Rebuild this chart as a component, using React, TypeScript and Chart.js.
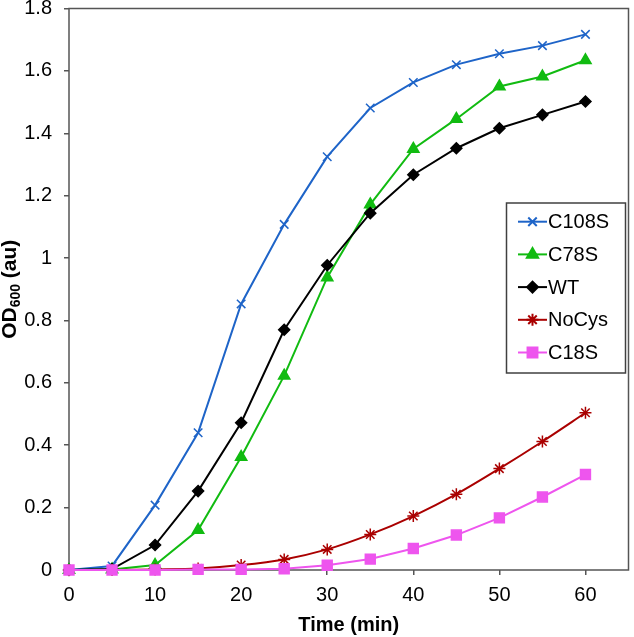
import React, { useEffect, useRef } from "react";
import { Chart, registerables } from "chart.js";
import { drawPoint } from "chart.js/helpers";

Chart.register(...registerables);

const timeMin = [0, 5, 10, 15, 20, 25, 30, 35, 40, 45, 50, 55, 60];
const c108s = [0, 0.013, 0.208, 0.44, 0.853, 1.108, 1.325, 1.481, 1.563, 1.62, 1.655, 1.681, 1.717];
const c78s = [0, 0.002, 0.016, 0.128, 0.362, 0.623, 0.938, 1.172, 1.35, 1.446, 1.55, 1.582, 1.634];
const wt = [0, 0.003, 0.08, 0.253, 0.472, 0.77, 0.977, 1.144, 1.267, 1.352, 1.416, 1.459, 1.502];
const noCys = [0, 0, 0.002, 0.005, 0.016, 0.034, 0.066, 0.114, 0.173, 0.243, 0.325, 0.412, 0.504];
const c18s = [0, 0, 0, 0.002, 0.002, 0.004, 0.015, 0.035, 0.069, 0.112, 0.167, 0.234, 0.306];
const xTickValues = [0, 10, 20, 30, 40, 50, 60];

const FONT = "'Liberation Sans', Arial, sans-serif";
const AXIS_COLOR = "#555555";

type S = {
  label: string;
  values: number[];
  color: string;
  pointStyle: string;
  radius: number;
  tension: number;
  order: number;
};

const series: S[] = [
  { label: "C108S", values: c108s, color: "#1E64C8", pointStyle: "crossRot", radius: 6, tension: 0, order: 5 },
  { label: "C78S", values: c78s, color: "#11BB11", pointStyle: "triangle", radius: 6.5, tension: 0, order: 4 },
  { label: "WT", values: wt, color: "#000000", pointStyle: "rectRot", radius: 5.5, tension: 0, order: 3 },
  { label: "NoCys", values: noCys, color: "#AA0000", pointStyle: "star", radius: 6, tension: 0.3, order: 2 },
  { label: "C18S", values: c18s, color: "#EE55EE", pointStyle: "rect", radius: 7, tension: 0, order: 1 },
];

const framePlugin = {
  id: "frame",
  beforeDatasetsDraw(chart: any) {
    const { ctx, chartArea } = chart;
    ctx.save();
    ctx.strokeStyle = AXIS_COLOR;
    ctx.lineWidth = 1.5;
    ctx.strokeRect(chartArea.left, chartArea.top, chartArea.right - chartArea.left, chartArea.bottom - chartArea.top);
    ctx.restore();
  },
};

const textPlugin = {
  id: "texts",
  afterDraw(chart: any) {
    const { ctx, chartArea } = chart;
    ctx.save();
    // X title
    ctx.fillStyle = "#000";
    ctx.font = `bold 20px ${FONT}`;
    ctx.textAlign = "center";
    ctx.textBaseline = "alphabetic";
    ctx.fillText("Time (min)", (chartArea.left + chartArea.right) / 2, 631);

    // Y title with subscript
    const cy = (chartArea.top + chartArea.bottom) / 2;
    ctx.translate(16, cy);
    ctx.rotate(-Math.PI / 2);
    const big = `bold 21px ${FONT}`;
    const small = `bold 14px ${FONT}`;
    ctx.font = big;
    const w1 = ctx.measureText("OD").width;
    const w3 = ctx.measureText(" (au)").width;
    ctx.font = small;
    const w2 = ctx.measureText("600").width;
    const total = w1 + w2 + w3;
    let x = -total / 2;
    ctx.textAlign = "left";
    ctx.font = big;
    ctx.fillText("OD", x, 0);
    x += w1;
    ctx.font = small;
    ctx.fillText("600", x, 4);
    x += w2;
    ctx.font = big;
    ctx.fillText(" (au)", x, 0);
    ctx.restore();

    // Legend
    ctx.save();
    ctx.strokeStyle = "#404040";
    ctx.lineWidth = 1.5;
    ctx.strokeRect(506.5, 203, 119, 170);
    const y0 = 221.7;
    const dy = 32.7;
    series.forEach((s, i) => {
      const y = y0 + i * dy;
      ctx.strokeStyle = s.color;
      ctx.lineWidth = 2;
      ctx.beginPath();
      ctx.moveTo(518, y);
      ctx.lineTo(547, y);
      ctx.stroke();
      ctx.fillStyle = s.color;
      drawPoint(ctx, { pointStyle: s.pointStyle as any, radius: s.radius, rotation: 0, borderWidth: 1.5 } as any, 532.5, y);
      ctx.fillStyle = "#000";
      ctx.font = `20px ${FONT}`;
      ctx.textAlign = "left";
      ctx.textBaseline = "middle";
      ctx.fillText(s.label, 548, y + 1);
    });
    ctx.restore();
  },
};

export default function App() {
  const ref = useRef<HTMLCanvasElement>(null);
  useEffect(() => {
    if (!ref.current) return;
    const chart = new Chart(ref.current, {
      type: "line",
      data: {
        datasets: series.map((s) => ({
          label: s.label,
          data: timeMin.map((t, i) => ({ x: t, y: s.values[i] })),
          borderColor: s.color,
          backgroundColor: s.color,
          pointBackgroundColor: s.color,
          pointBorderColor: s.color,
          pointStyle: s.pointStyle as any,
          pointRadius: s.radius,
          pointBorderWidth: 1.5,
          borderWidth: 2,
          tension: s.tension,
          order: s.order,
          clip: false as any,
          fill: false,
        })),
      },
      options: {
        animation: false,
        responsive: true,
        maintainAspectRatio: false,
        layout: { padding: { top: 7, right: 0, left: 0, bottom: 0 } },
        plugins: { legend: { display: false }, tooltip: { enabled: false } },
        scales: {
          x: {
            type: "linear",
            min: 0,
            max: 65,
            afterBuildTicks: (scale: any) => {
              scale.ticks = xTickValues.map((v) => ({ value: v }));
            },
            afterFit: (scale: any) => {
              scale.height = 67;
              scale.paddingLeft = 0;
              scale.paddingRight = 0;
            },
            border: { display: false },
            grid: { display: true, drawOnChartArea: false, drawTicks: true, tickLength: 5, color: AXIS_COLOR, lineWidth: 1.5 },
            ticks: {
              color: "#000",
              font: { family: FONT, size: 20 },
              padding: 8,
              maxRotation: 0,
              autoSkip: false,
            },
          },
          y: {
            type: "linear",
            min: 0,
            max: 1.8,
            afterFit: (scale: any) => {
              scale.width = 69;
              scale.paddingTop = 0;
              scale.paddingBottom = 0;
            },
            border: { display: false },
            grid: { display: true, drawOnChartArea: false, drawTicks: true, tickLength: 5, color: AXIS_COLOR, lineWidth: 1.5 },
            ticks: {
              stepSize: 0.2,
              color: "#000",
              font: { family: FONT, size: 20 },
              padding: 12,
              callback: (v: any) => String(+Number(v).toFixed(1)),
            },
          },
        },
      },
      plugins: [framePlugin, textPlugin],
    });
    return () => chart.destroy();
  }, []);
  return (
    <div style={{ position: "fixed", left: 0, top: 0, width: 634, height: 637, overflow: "hidden", background: "#fff" }}>
      <div style={{ position: "absolute", left: 0, top: 0, width: 637, height: 637 }}>
        <canvas ref={ref} />
      </div>
    </div>
  );
}
